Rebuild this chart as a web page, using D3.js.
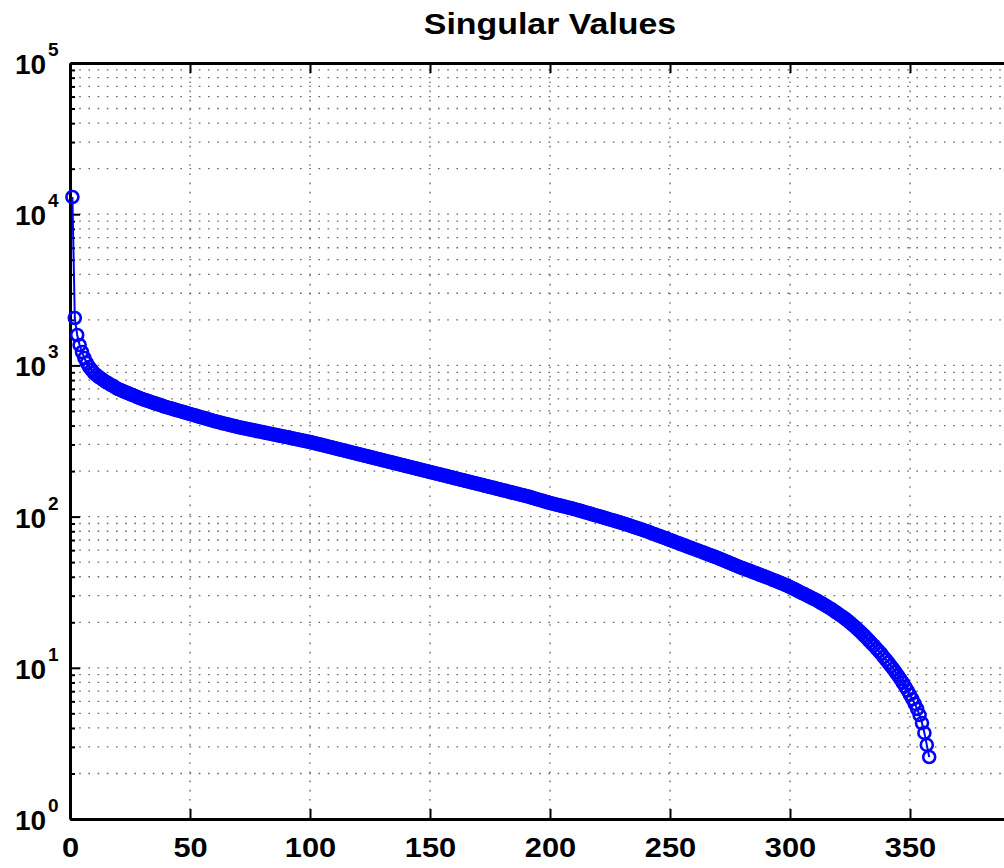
<!DOCTYPE html>
<html>
<head>
<meta charset="utf-8">
<script src="https://cdn.jsdelivr.net/npm/d3@7"></script>
<style>
  body { margin: 0; background: #fff; overflow: hidden; }
  .chart text { font-family: "Liberation Sans", Arial, Helvetica, sans-serif; font-weight: bold; fill: #000; }
</style>
</head>
<body>
<div class="chart"></div>
<script>
// Singular values, index 1..358
const singularValues = [
  13000, 2058, 1589, 1364, 1226, 1119, 1037, 976, 932, 891,
  864, 838, 817, 797, 777, 760, 744, 729, 713, 698,
  688, 677, 667, 657, 647, 637, 628, 618, 609, 600,
  592.5, 585, 578, 571, 564, 557, 550, 544, 537, 531,
  525, 519.6, 514, 509, 503, 498, 492.6, 487, 482, 477,
  472, 467, 462, 457, 452, 448, 443, 438, 434, 429,
  425, 421, 417, 413, 410, 406, 402, 399, 395, 391,
  388, 385.5, 382.5, 379.6, 376.7, 374, 371, 368, 365.6, 363,
  360, 357, 354.5, 352, 349, 346.6, 344, 341, 339, 336,
  334, 331, 328.6, 326, 323.6, 321, 318.6, 316, 314, 311.3,
  308.5, 305.7, 302.9, 300.2, 297.4, 294.7, 292.1, 289.4, 286.8, 284.2,
  281.6, 279.0, 276.5, 274.0, 271.5, 269.0, 266.6, 264.2, 261.8, 259.4,
  257.0, 254.7, 252.4, 250.1, 247.8, 245.6, 243.4, 241.1, 239.0, 236.8,
  234.6, 232.5, 230.4, 228.3, 226.2, 224.2, 222.1, 220.1, 218.1, 216.1,
  214.2, 212.2, 210.3, 208.4, 206.5, 204.6, 202.7, 200.9, 199.1, 197.3,
  195.5, 193.7, 191.9, 190.2, 188.5, 186.8, 185.1, 183.4, 181.7, 180.1,
  178.4, 176.8, 175.2, 173.6, 172.0, 170.5, 168.9, 167.4, 165.9, 164.4,
  162.9, 161.4, 159.9, 158.5, 157.0, 155.6, 154.2, 152.8, 151.4, 150.0,
  148.6, 147.3, 146.0, 144.6, 143.3, 142.0, 140.7, 139.4, 138.2, 136.9,
  135.5, 134.0, 132.6, 131.2, 129.8, 128.4, 127.1, 125.7, 124.4, 123.1,
  121.9, 120.8, 119.7, 118.6, 117.5, 116.5, 115.4, 114.4, 113.3, 112.3,
  111.1, 109.9, 108.8, 107.6, 106.5, 105.4, 104.2, 103.1, 102.0, 101.0,
  99.9, 98.8, 97.8, 96.7, 95.7, 94.7, 93.7, 92.7, 91.7, 90.7,
  89.6, 88.5, 87.5, 86.4, 85.4, 84.3, 83.3, 82.3, 81.3, 80.3,
  79.2, 78.1, 77.1, 76.0, 75.0, 74.0, 73.0, 72.0, 71.0, 70.0,
  69.1, 68.1, 67.2, 66.3, 65.4, 64.5, 63.6, 62.7, 61.9, 61.1,
  60.2, 59.4, 58.6, 57.8, 57.0, 56.2, 55.5, 54.7, 54.0, 53.2,
  52.4, 51.6, 50.8, 50.1, 49.3, 48.6, 47.8, 47.1, 46.4, 45.7,
  45.1, 44.5, 43.9, 43.3, 42.7, 42.1, 41.5, 40.9, 40.4, 39.9,
  39.3, 38.7, 38.1, 37.6, 37.0, 36.5, 35.9, 35.4, 34.8, 34.2,
  33.6, 33.0, 32.4, 31.8, 31.2, 30.7, 30.1, 29.6, 29.0, 28.5,
  28.0, 27.4, 26.8, 26.3, 25.7, 25.1, 24.6, 24.0, 23.4, 22.8,
  22.2, 21.7, 21.1, 20.5, 19.9, 19.3, 18.7, 18.1, 17.5, 16.9,
  16.3, 15.7, 15.1, 14.5, 14.0, 13.4, 12.9, 12.4, 11.8, 11.3,
  10.8, 10.3, 9.83, 9.35, 8.88, 8.42, 7.96, 7.51, 7.07, 6.63,
  6.20, 5.78, 5.34, 4.87, 4.31, 3.71, 3.09, 2.57
];

const xTicks = [0, 50, 100, 150, 200, 250, 300, 350, 400];
const yTickExps = [0, 1, 2, 3, 4, 5];
const minorMults = [2, 3, 4, 5, 6, 7, 8, 9];
const titleText = "Singular Values";

const margin = {top: 63, left: 70, bottom: 49},
      svgW = 1004, svgH = 868,
      width = 960,                       // x runs to 400, past the right edge
      height = svgH - margin.top - margin.bottom;

const svg = d3.select(".chart")
  .append("svg")
    .attr("width", svgW)
    .attr("height", svgH)
  .append("g")
    .attr("transform", `translate(${margin.left},${margin.top})`);

const x = d3.scaleLinear().domain([0, 400]).range([0, width]);
const y = d3.scaleLog().domain([1, 1e5]).range([height, 0]);

let majors = yTickExps.map(e => Math.pow(10, e));
let minors = [];
for (let e = 0; e < 5; e++) {
  for (let k of minorMults) minors.push(k * Math.pow(10, e));
}

// dotted grid
const grid = svg.append("g").attr("class", "grid")
  .attr("stroke", "#666").attr("stroke-width", 1.3)
  .attr("stroke-dasharray", "1.6,7.6");

grid.selectAll("line.hx")
  .data(majors.concat(minors).filter(v => v > 1 && v < 1e5))
  .enter().append("line")
    .attr("x1", 0).attr("x2", width)
    .attr("y1", d => y(d)).attr("y2", d => y(d));

grid.selectAll("line.vx")
  .data(xTicks.filter(v => v > 0 && v < 400))
  .enter().append("line")
    .attr("x1", d => x(d)).attr("x2", d => x(d))
    .attr("y1", 0).attr("y2", height);

// axes, ticks pointing inwards like matlab
const xAxis = svg.append("g")
  .attr("transform", `translate(0,${height})`)
  .call(d3.axisBottom(x).tickValues(xTicks).tickFormat(d3.format("d"))
    .tickSizeInner(-10).tickSizeOuter(0));

xAxis.selectAll("text")
  .attr("y", 38).attr("dy", 0)
  .style("font-size", "28px")
  .attr("transform", "scale(1.1,1)");

svg.append("g")
  .call(d3.axisTop(x).tickValues(xTicks).tickFormat("")
    .tickSizeInner(-10).tickSizeOuter(0));

svg.append("g")
  .call(d3.axisLeft(y).tickValues(majors).tickFormat("")
    .tickSizeInner(-10).tickSizeOuter(0));

svg.append("g")
  .call(d3.axisLeft(y).tickValues(minors).tickFormat("")
    .tickSizeInner(-5).tickSizeOuter(0))
  .select(".domain").remove();

svg.selectAll(".domain").attr("stroke-width", 3).attr("stroke", "#000");
svg.selectAll(".tick line").attr("stroke-width", 2).attr("stroke", "#000");

// 10^n labels
const yLab = svg.append("g").selectAll("text")
  .data(yTickExps)
  .enter().append("text")
    .attr("x", 15 - margin.left)
    .attr("y", d => y(Math.pow(10, d)) + 11)
    .style("font-size", "28px");

yLab.append("tspan").text("10");
yLab.append("tspan")
  .attr("x", 48 - margin.left)
  .attr("dy", -18)
  .style("font-size", "19px")
  .text(d => d);

// data
const line = d3.line()
  .x((d, i) => x(i + 1))
  .y(d => y(d));

svg.append("path")
  .datum(singularValues)
  .attr("fill", "none")
  .attr("stroke", "#0000ff")
  .attr("stroke-width", 2)
  .attr("d", line);

svg.append("g").selectAll("circle")
  .data(singularValues)
  .enter().append("circle")
    .attr("cx", (d, i) => x(i + 1))
    .attr("cy", d => y(d))
    .attr("r", 6)
    .attr("fill", "none")
    .attr("stroke", "#0000ff")
    .attr("stroke-width", 2.6);

// title
svg.append("text")
  .attr("transform", `translate(${x(200)},${34 - margin.top}) scale(1.13,1)`)
  .attr("text-anchor", "middle")
  .style("font-size", "30px")
  .text(titleText);
</script>
</body>
</html>
